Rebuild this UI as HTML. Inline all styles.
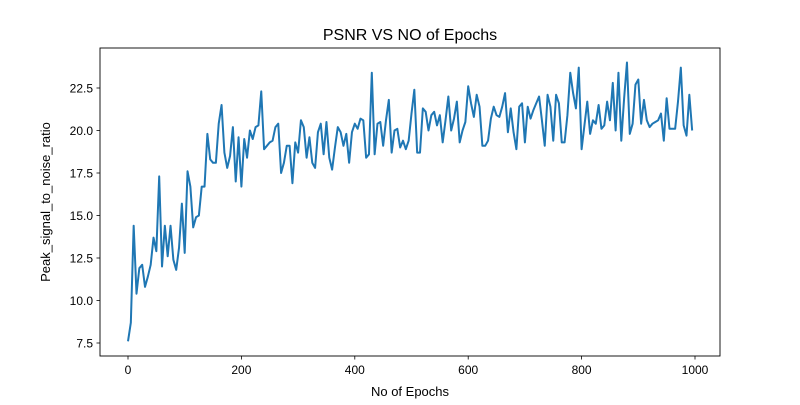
<!DOCTYPE html>
<html><head><meta charset="utf-8"><style>
body{margin:0;background:#fff}
svg text{font-family:"Liberation Sans","DejaVu Sans",sans-serif;fill:#000}
</style></head><body>
<svg id="chart" width="800" height="400">
<rect width="800" height="400" fill="#fff"/>
<text x="410" y="40" font-size="16" text-anchor="middle">PSNR VS NO of Epochs</text>
<g id="ticks"></g>
<path id="line" fill="none" stroke="#1f77b4" stroke-width="2" stroke-linejoin="round"/>
<rect x="100" y="48" width="620" height="308" fill="none" stroke="#000" stroke-width="0.9"/>
<text x="410" y="396" font-size="13" text-anchor="middle">No of Epochs</text>
<text x="0" y="0" font-size="13" text-anchor="middle" transform="translate(50,202) rotate(-90)">Peak_signal_to_noise_ratio</text>
</svg>
<script>
const psnrValues=[7.6,8.7,14.4,10.4,11.9,12.1,10.8,11.4,12.1,13.7,12.9,17.3,12.0,14.4,12.6,14.4,12.4,11.8,13.1,15.7,12.8,17.6,16.7,14.3,14.9,15.0,16.7,16.7,
19.8,18.3,18.1,18.1,20.4,21.5,18.7,17.8,18.5,20.2,17.0,19.6,16.7,19.5,18.4,20.0,19.5,20.2,20.3,22.3,
18.9,19.1,19.3,19.4,20.2,20.4,17.5,18.1,19.1,19.1,16.9,19.3,18.7,20.6,20.2,18.4,19.6,18.1,17.8,19.9,20.4,18.6,20.5,18.4,17.7,19.0,20.2,19.9,19.1,19.8,18.1,19.9,20.4,20.1,20.7,20.6,18.4,18.6,23.4,18.6,20.4,20.5,19.1,20.6,21.8,18.7,20.0,20.1,19.0,19.4,18.9,19.4,21.0,22.4,
18.7,18.7,21.3,21.1,20.0,20.9,21.1,20.3,20.9,19.3,20.6,22.0,20.0,20.7,21.7,19.3,20.0,20.5,22.6,21.6,20.8,22.1,21.4,19.1,19.1,19.4,20.7,21.4,20.9,20.8,21.4,22.2,19.9,21.3,19.9,18.9,21.4,21.6,19.3,21.4,20.7,21.2,21.6,22.0,20.6,19.1,22.1,21.4,19.4,
22.1,21.6,19.3,19.3,20.9,23.4,22.2,21.3,23.7,18.9,20.3,21.7,19.8,20.6,20.4,21.5,20.1,20.3,21.7,20.6,22.8,20.0,23.4,19.4,21.9,24.0,19.8,20.4,22.7,23.0,20.4,21.8,20.6,20.2,20.4,20.5,20.6,21.0,19.4,21.9,20.1,20.1,20.1,21.7,23.7,20.3,19.7,22.1,20.0];
const lastEpoch=995;
const xTicks=[0,200,400,600,800,1000];
const yTicks=[7.5,10.0,12.5,15.0,17.5,20.0,22.5];
const yTickLabels=["7.5","10.0","12.5","15.0","17.5","20.0","22.5"];
const X=v=>128+v*0.567;
const Y=v=>343-(v-7.5)*17;
const NS="http://www.w3.org/2000/svg";
const g=document.getElementById('ticks');
function mk(tag,attrs){const e=document.createElementNS(NS,tag);for(const k in attrs)e.setAttribute(k,attrs[k]);g.appendChild(e);return e;}
xTicks.forEach(t=>{
  const l=mk('line',{x1:X(t),x2:X(t),y1:356,y2:359.5,stroke:'#000','stroke-width':0.8});
  
  
  const tx=mk('text',{x:X(t),y:374,'font-size':12,'text-anchor':'middle'});
  tx.textContent=t;
  
  
});
yTicks.forEach((t,i)=>{
  const l=mk('line',{x1:96.5,x2:100,y1:Y(t),y2:Y(t),stroke:'#000','stroke-width':0.8});
  
  
  const tx=mk('text',{x:93,y:Y(t)+4.5,'font-size':12,'text-anchor':'end'});
  tx.textContent=yTickLabels[i];
  
  
});
const n=psnrValues.length;
const step=lastEpoch/(n-1);
let d='';
psnrValues.forEach((v,i)=>{d+=(i?'L':'M')+X(i*step).toFixed(2)+','+Y(v).toFixed(2);});
document.getElementById('line').setAttribute('d',d);
</script>
</body></html>
